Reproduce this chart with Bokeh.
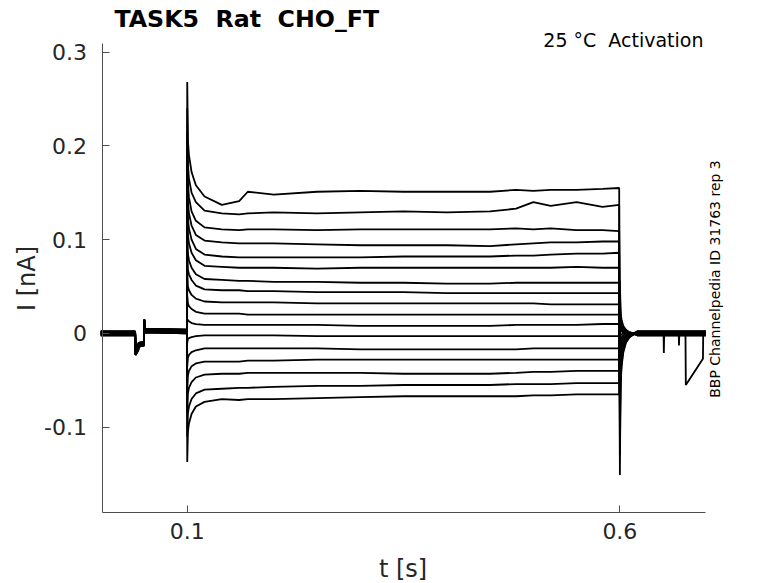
import math
from bokeh.plotting import figure
from bokeh.models import Range1d, FixedTicker, Label
from bokeh.embed import file_html
from bokeh.resources import INLINE

# ---------------- data ----------------
# holding segment before the step (shared artefact around t = 0.04-0.05 s)
PRE_T = [0.0, 0.0398, 0.0402, 0.0434, 0.0438, 0.0500, 0.0504, 0.0512, 0.0998]
PRE_V = [0.0, 0.0, -0.021, -0.016, -0.012, -0.011, 0.013, 0.003, 0.002]

# per-sweep baseline offsets (width of the noisy baseline band)
BASE = [0.001, -0.001, 0.002, 0.000, -0.002, 0.001, 0.000, -0.001, 0.002,
        -0.002, 0.001, 0.000, -0.001, 0.002, 0.000, -0.002, 0.001]

# step segment 0.1 .. 0.6 s
STEP_T = [0.100, 0.1008, 0.102, 0.105, 0.110, 0.120, 0.140, 0.160, 0.170, 0.200,
          0.250, 0.300, 0.350, 0.400, 0.450, 0.480, 0.500, 0.520, 0.550, 0.580, 0.5992]
STEP = [
    [0.268, 0.205, 0.190, 0.172, 0.158, 0.146, 0.137, 0.141, 0.151, 0.148, 0.151, 0.152, 0.151, 0.151, 0.151, 0.153, 0.152, 0.153, 0.153, 0.154, 0.155],
    [0.240, 0.180, 0.165, 0.150, 0.140, 0.131, 0.128, 0.127, 0.128, 0.129, 0.128, 0.129, 0.130, 0.129, 0.130, 0.133, 0.140, 0.136, 0.140, 0.135, 0.137],
    [0.215, 0.160, 0.145, 0.130, 0.120, 0.113, 0.111, 0.110, 0.111, 0.111, 0.110, 0.111, 0.111, 0.111, 0.111, 0.112, 0.111, 0.112, 0.110, 0.110, 0.109],
    [0.190, 0.140, 0.128, 0.115, 0.105, 0.099, 0.097, 0.096, 0.096, 0.096, 0.095, 0.094, 0.094, 0.094, 0.093, 0.095, 0.096, 0.097, 0.097, 0.098, 0.098],
    [0.165, 0.122, 0.112, 0.100, 0.090, 0.084, 0.082, 0.081, 0.081, 0.081, 0.081, 0.081, 0.082, 0.082, 0.082, 0.083, 0.083, 0.084, 0.085, 0.085, 0.086],
    [0.140, 0.105, 0.096, 0.086, 0.078, 0.072, 0.071, 0.070, 0.070, 0.070, 0.069, 0.070, 0.070, 0.070, 0.070, 0.070, 0.070, 0.070, 0.071, 0.070, 0.070],
    [0.115, 0.085, 0.078, 0.070, 0.063, 0.058, 0.057, 0.056, 0.056, 0.055, 0.055, 0.054, 0.054, 0.053, 0.053, 0.054, 0.054, 0.054, 0.054, 0.054, 0.054],
    [0.090, 0.068, 0.063, 0.057, 0.051, 0.047, 0.046, 0.046, 0.045, 0.045, 0.044, 0.044, 0.044, 0.043, 0.043, 0.043, 0.043, 0.043, 0.043, 0.043, 0.043],
    [0.065, 0.050, 0.046, 0.041, 0.037, 0.034, 0.033, 0.033, 0.033, 0.033, 0.032, 0.032, 0.032, 0.032, 0.032, 0.032, 0.032, 0.031, 0.031, 0.031, 0.031],
    [0.040, 0.032, 0.029, 0.026, 0.023, 0.021, 0.021, 0.021, 0.020, 0.020, 0.020, 0.020, 0.020, 0.020, 0.020, 0.020, 0.020, 0.020, 0.020, 0.020, 0.020],
    [0.015, 0.014, 0.013, 0.011, 0.010, 0.009, 0.009, 0.009, 0.009, 0.009, 0.009, 0.008, 0.008, 0.008, 0.008, 0.009, 0.009, 0.009, 0.009, 0.010, 0.010],
    [-0.010, -0.006, -0.005, -0.004, -0.003, -0.002, -0.002, -0.002, -0.002, -0.002, -0.003, -0.003, -0.003, -0.003, -0.003, -0.003, -0.003, -0.003, -0.003, -0.003, -0.003],
    [-0.035, -0.026, -0.023, -0.020, -0.018, -0.016, -0.016, -0.016, -0.016, -0.016, -0.016, -0.017, -0.017, -0.017, -0.017, -0.017, -0.016, -0.016, -0.016, -0.016, -0.016],
    [-0.060, -0.045, -0.040, -0.035, -0.032, -0.030, -0.030, -0.030, -0.029, -0.029, -0.028, -0.028, -0.028, -0.028, -0.028, -0.028, -0.028, -0.028, -0.028, -0.028, -0.028],
    [-0.085, -0.064, -0.058, -0.052, -0.047, -0.044, -0.043, -0.043, -0.042, -0.042, -0.042, -0.042, -0.043, -0.043, -0.043, -0.042, -0.041, -0.041, -0.040, -0.040, -0.040],
    [-0.110, -0.085, -0.078, -0.070, -0.064, -0.060, -0.059, -0.058, -0.058, -0.057, -0.056, -0.056, -0.055, -0.055, -0.055, -0.054, -0.054, -0.054, -0.053, -0.053, -0.053],
    [-0.137, -0.105, -0.096, -0.086, -0.078, -0.073, -0.070, -0.071, -0.070, -0.070, -0.069, -0.068, -0.067, -0.067, -0.067, -0.067, -0.066, -0.066, -0.065, -0.065, -0.065],
]

# tail after the step (0.6 s onward)
TAIL_T = [0.600, 0.6008, 0.602, 0.604, 0.607, 0.611, 0.616, 0.620]
TAIL = [
    [-0.151, -0.056, -0.035, -0.020, -0.010, -0.004, -0.001, 0.0],
    [-0.130, -0.050, -0.031, -0.018, -0.009, -0.004, -0.001, 0.0],
    [-0.110, -0.044, -0.027, -0.016, -0.008, -0.003, -0.001, 0.0],
    [-0.092, -0.038, -0.023, -0.013, -0.007, -0.003, -0.001, 0.0],
    [-0.076, -0.032, -0.019, -0.011, -0.006, -0.002, 0.0, 0.0],
    [-0.062, -0.027, -0.016, -0.009, -0.005, -0.002, 0.0, 0.0],
    [-0.048, -0.022, -0.013, -0.007, -0.004, -0.001, 0.0, 0.0],
    [-0.036, -0.017, -0.010, -0.006, -0.003, -0.001, 0.0, 0.0],
    [-0.025, -0.012, -0.007, -0.004, -0.002, -0.001, 0.0, 0.0],
    [-0.014, -0.007, -0.004, -0.002, -0.001, 0.0, 0.0, 0.0],
    [-0.004, -0.002, -0.001, 0.0, 0.0, 0.0, 0.0, 0.0],
    [0.006, 0.003, 0.002, 0.001, 0.0, 0.0, 0.0, 0.0],
    [0.016, 0.007, 0.004, 0.002, 0.001, 0.0, 0.0, 0.0],
    [0.026, 0.011, 0.007, 0.004, 0.002, 0.001, 0.0, 0.0],
    [0.036, 0.015, 0.009, 0.005, 0.003, 0.001, 0.0, 0.0],
    [0.046, 0.019, 0.011, 0.006, 0.003, 0.001, 0.0, 0.0],
    [0.056, 0.023, 0.014, 0.008, 0.004, 0.001, 0.0, 0.0],
]

# end segment, with the artefacts seen in one sweep
POST_T = [0.6205, 0.6505, 0.6508, 0.6512, 0.6680, 0.6683, 0.6687, 0.6758, 0.6762, 0.6960, 0.6963, 0.6995]
POST_ART = [0.0, 0.0, -0.021, 0.0, 0.0, -0.013, 0.0, 0.0, -0.055, -0.027, 0.0, 0.0]
POST_FLAT = [0.0] * len(POST_T)
ART_SWEEP = 11

# axis limits (axes are drawn only over these spans)
X_LIM = (0.0015, 0.6995)
Y_LIM = (-0.1911, 0.3091)
X_TICKS = [0.1, 0.6]
Y_TICKS = [-0.1, 0.0, 0.1, 0.2, 0.3]
X_LABELS = {0.1: "0.1", 0.6: "0.6"}
Y_LABELS = {-0.1: "-0.1", 0.0: "0", 0.1: "0.1", 0.2: "0.2", 0.3: "0.3"}

NB = "\u00a0"
TITLE = "TASK5" + NB + " Rat" + NB + " CHO_FT"
CONDITION = "25 °C" + NB + " Activation"
SOURCE = "BBP Channelpedia ID 31763 rep 3"
X_TITLE = "t [s]"
Y_TITLE = "I [nA]"

# ---------------- build sweeps ----------------
xs, ys = [], []
for i in range(len(STEP)):
    b = BASE[i]
    post = POST_ART if i == ART_SWEEP else POST_FLAT
    x = list(PRE_T) + list(STEP_T) + list(TAIL_T) + list(POST_T)
    y = ([v + b for v in PRE_V] + list(STEP[i]) +
         [v + (b if k == len(TAIL_T) - 1 else 0.0) for k, v in enumerate(TAIL[i])] +
         [v + b for v in post])
    xs.append(x)
    ys.append(y)

FONT = "DejaVu Sans"
AX = "#4d4d4d"
TXT = "#262626"

W, H = 778, 583
# canvas-wide frame; axes are pinned at the limits with fixed_location/bounds
XPX = 865.3      # px per second
YPX = 938.0      # px per nA
x0 = X_LIM[0] - 101.5 / XPX
y1 = 332.9 / YPX
p = figure(width=W, height=H, output_backend="svg", toolbar_location=None,
           x_range=Range1d(x0, x0 + W / XPX), y_range=Range1d(y1 - H / YPX, y1),
           min_border=0)
p.outline_line_color = None
p.xgrid.visible = False
p.ygrid.visible = False
p.background_fill_color = "white"
p.border_fill_color = "white"

p.multi_line(xs, ys, line_color="black", line_width=1.8)

for ax in (p.xaxis[0], p.yaxis[0]):
    ax.axis_line_color = AX
    ax.major_tick_line_color = AX
    ax.axis_line_width = 1
    ax.major_tick_in = 7
    ax.major_tick_out = 0
    ax.minor_tick_line_color = None
    ax.major_label_text_font = FONT
    ax.major_label_text_font_size = "22px"
    ax.major_label_text_color = TXT

p.xaxis[0].fixed_location = Y_LIM[0]
p.xaxis[0].bounds = X_LIM
p.yaxis[0].fixed_location = X_LIM[0]
p.yaxis[0].bounds = Y_LIM
p.xaxis[0].ticker = FixedTicker(ticks=X_TICKS)
p.yaxis[0].ticker = FixedTicker(ticks=Y_TICKS)
p.xaxis[0].major_label_overrides = X_LABELS
p.yaxis[0].major_label_overrides = Y_LABELS
p.xaxis[0].major_label_standoff = 10
p.yaxis[0].major_label_standoff = 15

p.add_layout(Label(x=0.0159, y=0.3349, text=TITLE, text_font=FONT,
                   text_font_size="23.7px", text_font_style="bold", text_color="black",
                   text_align="left", text_baseline="alphabetic"))
p.add_layout(Label(x=0.6966, y=0.3130, text=CONDITION, text_font=FONT,
                   text_font_size="19px", text_color="black",
                   text_align="right", text_baseline="alphabetic"))
p.add_layout(Label(x=0.7099, y=0.058, text=SOURCE, text_font=FONT,
                   text_font_size="14px", text_color="black", angle=math.pi / 2,
                   text_align="center", text_baseline="alphabetic"))
p.add_layout(Label(x=0.3494, y=-0.2515, text=X_TITLE, text_font=FONT,
                   text_font_size="24px", text_color=TXT,
                   text_align="center", text_baseline="alphabetic"))
p.add_layout(Label(x=-0.0855, y=0.0585, text=Y_TITLE, text_font=FONT,
                   text_font_size="24px", text_color=TXT, angle=math.pi / 2,
                   text_align="center", text_baseline="alphabetic"))

open("out.html", "w").write(file_html(p, INLINE))
